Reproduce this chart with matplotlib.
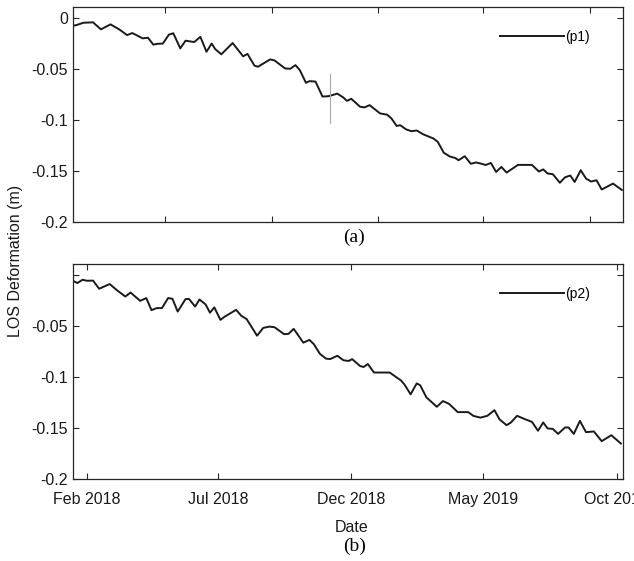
import numpy as np
import pandas as pd
import matplotlib
matplotlib.use("Agg")
from matplotlib import pyplot as plt
import matplotlib.dates as mdates

# days counted from the first acquisition (16 Jan 2018)
startDate = pd.Timestamp("2018-01-16")

p1Days = [0, 4, 12, 23, 32, 43, 53, 62, 68, 80,
          86, 92, 97, 103, 110, 115, 123, 129, 139, 146,
          153, 159, 163, 170, 183, 195, 200, 208, 212, 226,
          231, 243, 249, 255, 260, 267, 271, 278, 286, 293,
          303, 310, 314, 319, 329, 334, 340, 352, 360, 365,
          371, 375, 382, 388, 394, 401, 413, 418, 425, 432,
          438, 442, 449, 456, 462, 467, 473, 479, 485, 491,
          497, 510, 526, 534, 539, 544, 550, 558, 564, 570,
          575, 582, 588, 594, 600, 606, 619, 629]
p1Values = [-0.0078, -0.0072, -0.0049, -0.0045, -0.0114, -0.0065, -0.0114, -0.0170, -0.0150, -0.0202,
            -0.0196, -0.0263, -0.0255, -0.0253, -0.0165, -0.0152, -0.0300, -0.0225, -0.0238, -0.0187,
            -0.0333, -0.0253, -0.0307, -0.0358, -0.0248, -0.0378, -0.0354, -0.0469, -0.0480, -0.0408,
            -0.0418, -0.0496, -0.0500, -0.0464, -0.0513, -0.0637, -0.0621, -0.0625, -0.0772, -0.0768,
            -0.0743, -0.0782, -0.0814, -0.0794, -0.0871, -0.0878, -0.0856, -0.0937, -0.0949, -0.0986,
            -0.1060, -0.1052, -0.1094, -0.1111, -0.1104, -0.1140, -0.1182, -0.1214, -0.1322, -0.1359,
            -0.1373, -0.1395, -0.1356, -0.1430, -0.1417, -0.1427, -0.1442, -0.1422, -0.1510, -0.1461,
            -0.1516, -0.1441, -0.1441, -0.1506, -0.1485, -0.1525, -0.1532, -0.1616, -0.1562, -0.1545,
            -0.1608, -0.1493, -0.1575, -0.1604, -0.1591, -0.1682, -0.1624, -0.1686]

p2Days = [0, 5, 11, 16, 23, 30, 42, 51, 60, 66,
          77, 84, 90, 96, 102, 109, 114, 120, 129, 133,
          140, 145, 152, 157, 162, 169, 174, 187, 193, 199,
          211, 218, 225, 231, 242, 247, 253, 264, 271, 276,
          283, 290, 295, 303, 310, 316, 320, 329, 333, 338,
          345, 363, 369, 376, 380, 387, 394, 398, 405, 417,
          424, 431, 441, 453, 459, 467, 475, 483, 489, 497,
          502, 509, 518, 526, 533, 539, 544, 550, 556, 564,
          568, 574, 581, 588, 597, 606, 617, 628]
p2Values = [-0.0059, -0.0081, -0.0049, -0.0059, -0.0057, -0.0137, -0.0091, -0.0155, -0.0213, -0.0174,
            -0.0255, -0.0228, -0.0346, -0.0326, -0.0326, -0.0228, -0.0235, -0.0360, -0.0238, -0.0237,
            -0.0311, -0.0242, -0.0290, -0.0371, -0.0319, -0.0441, -0.0409, -0.0343, -0.0402, -0.0433,
            -0.0596, -0.0520, -0.0507, -0.0513, -0.0581, -0.0578, -0.0529, -0.0664, -0.0637, -0.0678,
            -0.0773, -0.0820, -0.0824, -0.0792, -0.0836, -0.0843, -0.0825, -0.0892, -0.0902, -0.0873,
            -0.0956, -0.0956, -0.0992, -0.1034, -0.1074, -0.1169, -0.1062, -0.1081, -0.1198, -0.1291,
            -0.1235, -0.1262, -0.1343, -0.1343, -0.1380, -0.1397, -0.1379, -0.1324, -0.1415, -0.1471,
            -0.1444, -0.1379, -0.1412, -0.1438, -0.1525, -0.1444, -0.1503, -0.1507, -0.1556, -0.1493,
            -0.1493, -0.1556, -0.1429, -0.1539, -0.1532, -0.1627, -0.1569, -0.1650]

# thin grey cursor line left on the top panel
cursorDay = 295
cursorRange = [-0.1032, -0.0553]

yTicks = [-0.2, -0.15, -0.1, -0.05, 0]
yTickLabels = ["-0.2", "-0.15", "-0.1", "-0.05", "0"]
topXTicks = ["2018-05-01", "2018-09-01", "2019-01-01", "2019-05-01", "2019-09-01"]
bottomXTicks = ["2018-02-01", "2018-07-01", "2018-12-01", "2019-05-01", "2019-10-01"]

plt.rcParams["font.family"] = ["Liberation Sans", "DejaVu Sans"]
axisColor = "#262626"


def toDates(days):
    return startDate + pd.to_timedelta(days, unit="D")


def styleAxes(ax):
    ax.set_xlim(startDate, startDate + pd.Timedelta(days=630))
    ax.set_ylim(-0.2, 0.0105)
    ax.set_yticks(yTicks)
    ax.tick_params(direction="in", length=4, width=0.8, top=True, right=True,
                   labelsize=11.5, colors=axisColor, labelcolor="#1a1a1a")
    ax.tick_params(axis="x", pad=9)
    for spine in ax.spines.values():
        spine.set_linewidth(0.9)
        spine.set_color(axisColor)


fig = plt.figure(figsize=(6.34, 5.61), dpi=100)
axTop = fig.add_axes([0.1151, 0.6043, 0.867, 0.3832])
axBottom = fig.add_axes([0.1151, 0.1456, 0.867, 0.3838])

axTop.plot(toDates(p1Days), p1Values, color="#1a1a1a", linewidth=1.4, label="(p1)")
axTop.plot([toDates([cursorDay])[0]] * 2, cursorRange, color="#a8a8a8", linewidth=0.8)
styleAxes(axTop)
axTop.set_yticklabels(yTickLabels)
axTop.set_xticks(pd.to_datetime(topXTicks))
axTop.set_xticklabels([])

axBottom.plot(toDates(p2Days), p2Values, color="#1a1a1a", linewidth=1.4, label="(p2)")
styleAxes(axBottom)
axBottom.set_yticklabels(yTickLabels[:-1] + [""])
axBottom.set_xticks(pd.to_datetime(bottomXTicks))
axBottom.xaxis.set_major_formatter(mdates.DateFormatter("%b %Y"))

for ax in [axTop, axBottom]:
    ax.legend(loc="center left", bbox_to_anchor=(0.777, 0.862), frameon=False,
              handlelength=4.6, handletextpad=0.1, borderpad=0, borderaxespad=0,
              fontsize=10)

fig.text(0.025, 0.535, "LOS Deformation (m)", rotation=90, ha="center", va="center",
         fontsize=11.5, color="#1a1a1a")
fig.text(0.555, 0.059, "Date", ha="center", va="center", fontsize=11.5, color="#1a1a1a")
fig.text(0.558, 0.5775, "(a)", ha="center", va="center", fontsize=14,
         family=["Liberation Serif", "DejaVu Serif"])
fig.text(0.56, 0.0255, "(b)", ha="center", va="center", fontsize=14,
         family=["Liberation Serif", "DejaVu Serif"])

fig.savefig("out.png", dpi=100)
